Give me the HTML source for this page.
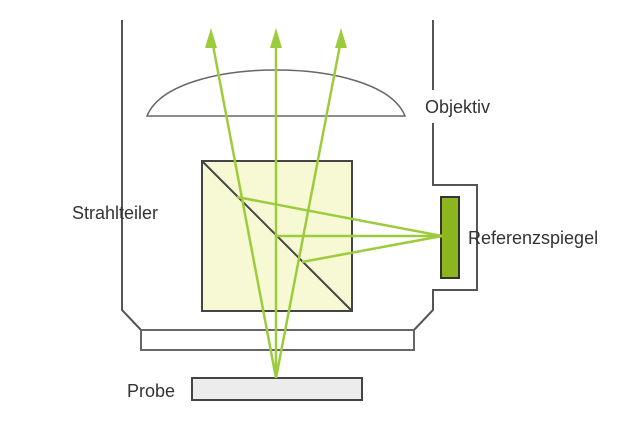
<!DOCTYPE html>
<html><head><style>
html,body{margin:0;padding:0;background:#fff;}
svg{display:block;}
text{font-family:"Liberation Sans",sans-serif;font-size:18px;fill:#333;}
</style></head><body>
<svg width="620" height="422" viewBox="0 0 620 422">
<g fill="none" stroke="#555" stroke-width="2">
<polyline points="122,20 122,310 141,330"/>
<polyline points="433,20 433,90"/>
<polyline points="433,123 433,185 477,185 477,290 433,290 433,310 414,330"/>
<rect x="141" y="330" width="273" height="20" stroke="#666"/>
<path d="M147,116 C160,84 220,70 276,70 C332,70 392,84 405,116 Z" stroke="#666" stroke-width="1.5"/>
</g>
<rect x="202" y="161" width="150" height="150" fill="#f6f9d4" stroke="#444" stroke-width="2"/>
<line x1="202" y1="161" x2="352" y2="311" stroke="#444" stroke-width="2"/>
<rect x="441" y="197" width="18" height="81" fill="#8cb51e" stroke="#333" stroke-width="2"/>
<rect x="192" y="378" width="170" height="22" fill="#ececec" stroke="#444" stroke-width="2"/>
<g stroke="#9ccc3c" stroke-width="2.5" fill="none">
<line x1="276" y1="378" x2="212" y2="40"/>
<line x1="276" y1="378" x2="276" y2="40"/>
<line x1="276" y1="378" x2="341" y2="40"/>
<polyline points="237,197 442,236 302,262"/>
<line x1="276" y1="236" x2="442" y2="236"/>
</g>
<g fill="#9ccc3c">
<polygon points="211,28 205,48 217,48"/>
<polygon points="276,28 270,48 282,48"/>
<polygon points="341,28 335,48 347,48"/>
</g>
<text x="425" y="113">Objektiv</text>
<text x="72" y="219">Strahlteiler</text>
<text x="468" y="244">Referenzspiegel</text>
<text x="127" y="397">Probe</text>
</svg>
</body></html>
